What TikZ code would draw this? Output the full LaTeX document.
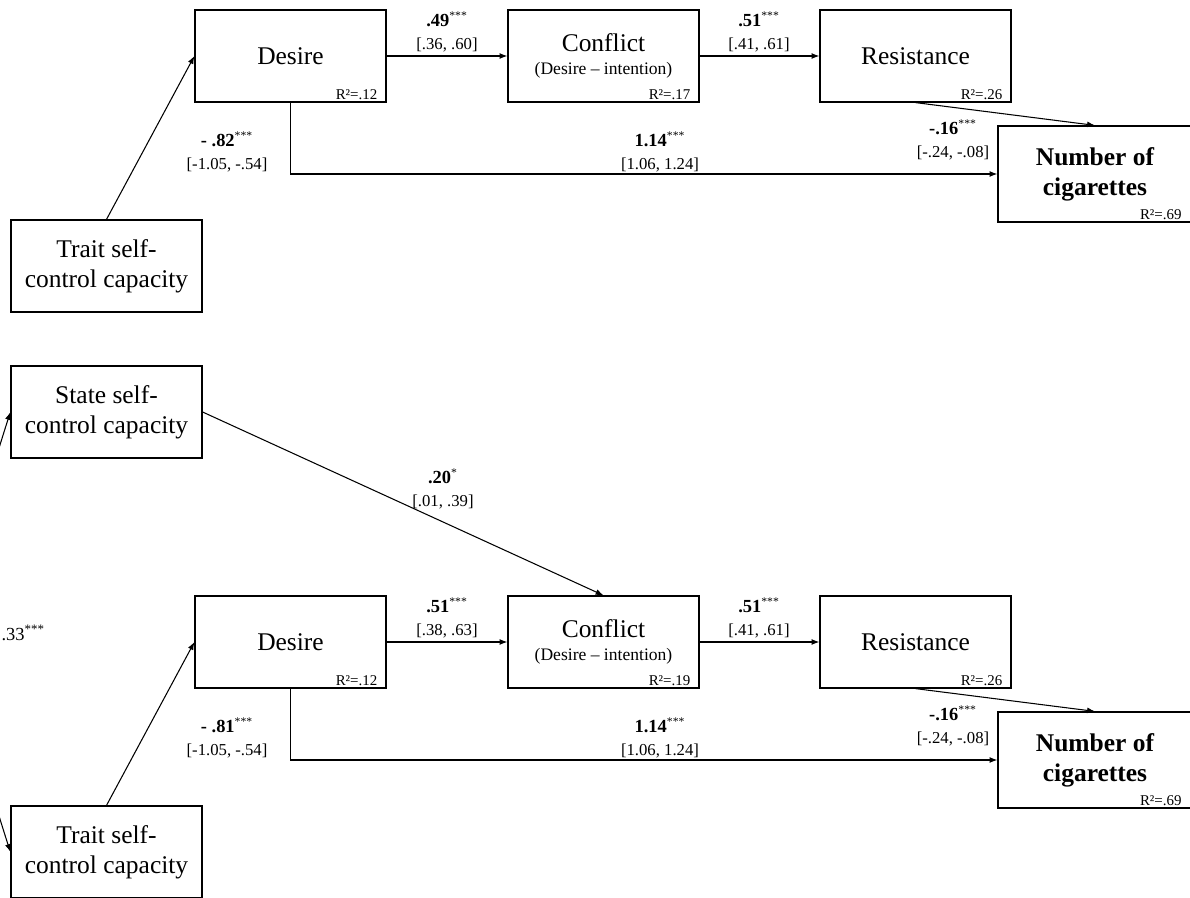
\documentclass[tikz,border=0pt]{standalone}
\usepackage{fontspec}
\setmainfont{Liberation Serif}
\usetikzlibrary{arrows.meta}
\newcommand{\pathcoef}[3]{{\fontsize{10.5}{13}\selectfont\bfseries #1}\textsuperscript{#2}\\{[#3]}}
\begin{document}
\begin{tikzpicture}[x=0.02cm, y=-0.02cm, line width=0.6pt, >={Latex[length=4.5pt,width=3.4pt]},
	box/.style={draw, line width=0.7pt, minimum width=3.82cm, minimum height=1.84cm, inner sep=0pt, align=center, font=\fontsize{14.5}{17}\selectfont},
	outcome/.style={box, minimum width=3.88cm, minimum height=1.92cm, font=\fontsize{14.5}{17}\selectfont\bfseries},
	rsq/.style={anchor=south east, inner xsep=5pt, inner ysep=1.5pt, font=\fontsize{8.5}{10}\selectfont},
	coef/.style={align=center, inner sep=0pt, font=\fontsize{9.5}{13}\selectfont}]
	\useasboundingbox (0,0) rectangle (1190,898);
	\clip (0,0) rectangle (1190,898);
	% model with trait self-control only
	\node[box] (desA) at (290.5,56) {Desire};
	\node[box] (conA) at (603.5,56) {Conflict\\[-4pt]{\fontsize{10}{12}\selectfont(Desire – intention)}};
	\node[box] (resA) at (915.5,56) {Resistance};
	\node[outcome] (numA) at (1095,174) {Number of\\cigarettes};
	\node[box] (traA) at (106.5,266) {Trait self-\\control capacity};
	\node[rsq] (rdesA) at (desA.south east) {R²=.12};
	\node[rsq] (rconA) at (conA.south east) {R²=.17};
	\node[rsq] (rresA) at (resA.south east) {R²=.26};
	\node[rsq, inner xsep=6pt] (rnumA) at (numA.south east) {R²=.69};
	\draw[->] (traA.north) -- (desA.west);
	\draw[->] (desA.east) -- (conA.west);
	\draw[->] (conA.east) -- (resA.west);
	\draw[->] (resA.south) -- (numA.north);
	\draw[->] (desA.south) |- (numA.west);
	\node[coef] (kA1) at (447,32) {\pathcoef{.49}{***}{.36, .60}};
	\node[coef] (kA2) at (759,32) {\pathcoef{.51}{***}{.41, .61}};
	\node[coef] (kA3) at (227,152) {\pathcoef{- .82}{***}{-1.05, -.54}};
	\node[coef] (kA4) at (660,152) {\pathcoef{1.14}{***}{1.06, 1.24}};
	\node[coef] (kA5) at (953,140) {\pathcoef{-.16}{***}{-.24, -.08}};
	% model with state and trait self-control
	\node[box] (staB) at (106.5,412) {State self-\\control capacity};
	\node[box] (desB) at (290.5,642) {Desire};
	\node[box] (conB) at (603.5,642) {Conflict\\[-4pt]{\fontsize{10}{12}\selectfont(Desire – intention)}};
	\node[box] (resB) at (915.5,642) {Resistance};
	\node[outcome] (numB) at (1095,760) {Number of\\cigarettes};
	\node[box] (traB) at (106.5,852) {Trait self-\\control capacity};
	\node[rsq] (rdesB) at (desB.south east) {R²=.12};
	\node[rsq] (rconB) at (conB.south east) {R²=.19};
	\node[rsq] (rresB) at (resB.south east) {R²=.26};
	\node[rsq, inner xsep=6pt] (rnumB) at (numB.south east) {R²=.69};
	\draw[<->] (staB.west) .. controls (-50,600) and (-50,664) .. (traB.west);
	\draw[->] (staB.east) -- (conB.north);
	\draw[->] (traB.north) -- (desB.west);
	\draw[->] (desB.east) -- (conB.west);
	\draw[->] (conB.east) -- (resB.west);
	\draw[->] (resB.south) -- (numB.north);
	\draw[->] (desB.south) |- (numB.west);
	\node[anchor=west, inner sep=0pt, font=\fontsize{10.5}{12}\selectfont] (kB0) at (1,633) {.33\textsuperscript{***}};
	\node[coef] (kB6) at (443,489) {{\fontsize{10.5}{13}\selectfont\bfseries .20}\textsuperscript{*}\\{[.01, .39]}};
	\node[coef] (kB1) at (447,618) {\pathcoef{.51}{***}{.38, .63}};
	\node[coef] (kB2) at (759,618) {\pathcoef{.51}{***}{.41, .61}};
	\node[coef] (kB3) at (227,738) {\pathcoef{- .81}{***}{-1.05, -.54}};
	\node[coef] (kB4) at (660,738) {\pathcoef{1.14}{***}{1.06, 1.24}};
	\node[coef] (kB5) at (953,726) {\pathcoef{-.16}{***}{-.24, -.08}};
\end{tikzpicture}
\end{document}
